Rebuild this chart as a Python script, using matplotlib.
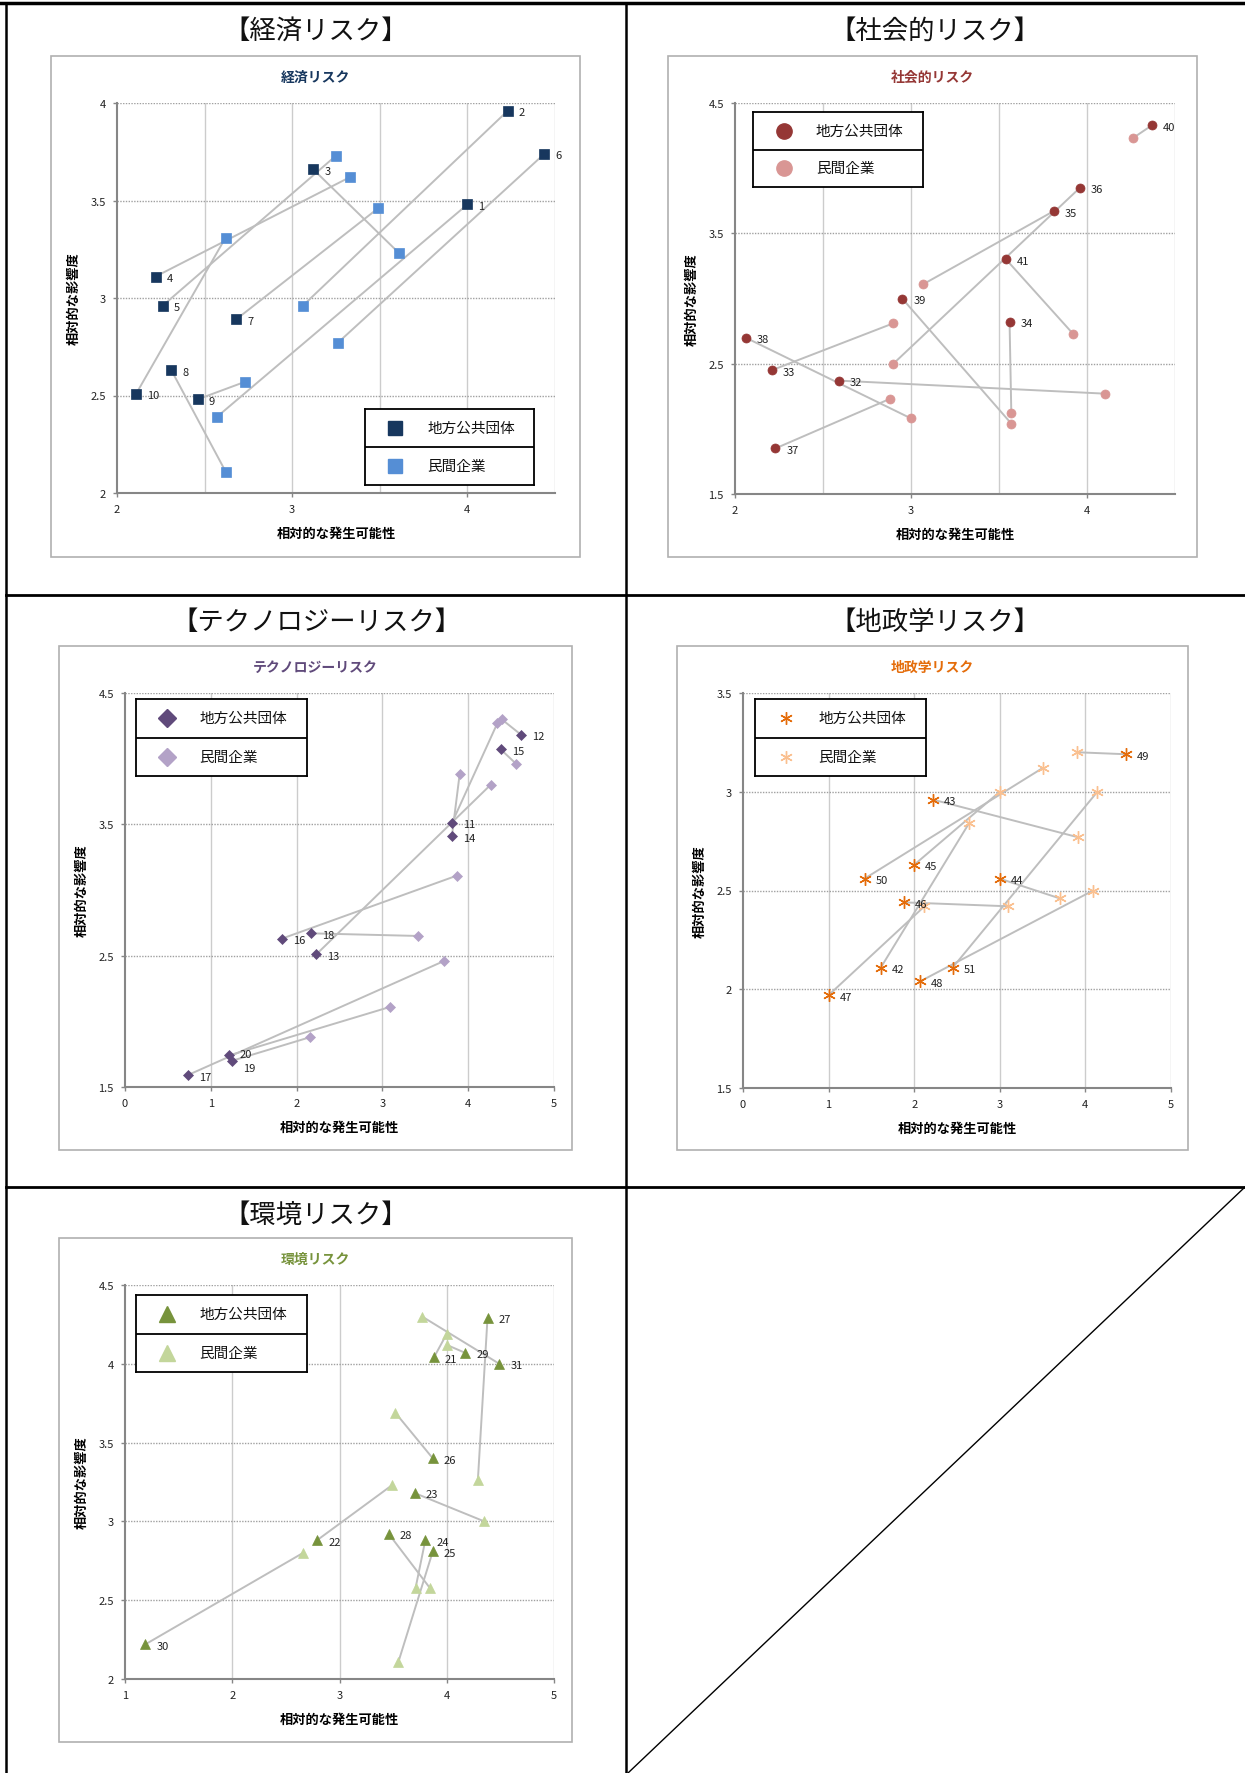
import matplotlib.pyplot as plt
from matplotlib.lines import Line2D
from matplotlib.patches import Rectangle

plt.rcParams['font.family'] = ['Noto Sans CJK JP', 'DejaVu Sans']

# 経済リスク (No.1-10)
econ_ids = list(range(1, 11))
econ_gov_x = [4.00, 4.23, 3.12, 2.22, 2.26, 4.44, 2.68, 2.31, 2.46, 2.11]
econ_gov_y = [3.48, 3.96, 3.66, 3.11, 2.96, 3.74, 2.89, 2.63, 2.48, 2.51]
econ_biz_x = [2.57, 3.06, 3.61, 3.33, 3.25, 3.26, 3.49, 2.62, 2.73, 2.62]
econ_biz_y = [2.39, 2.96, 3.23, 3.62, 3.73, 2.77, 3.46, 2.11, 2.57, 3.31]

# 社会的リスク (No.32-41)
soc_ids = list(range(32, 42))
soc_gov_x = [2.59, 2.21, 3.56, 3.81, 3.96, 2.23, 2.06, 2.95, 4.37, 3.54]
soc_gov_y = [2.37, 2.45, 2.82, 3.67, 3.85, 1.85, 2.70, 3.00, 4.33, 3.30]
soc_biz_x = [4.10, 2.90, 3.57, 3.07, 2.90, 2.88, 3.00, 3.57, 4.26, 3.92]
soc_biz_y = [2.27, 2.81, 2.12, 3.11, 2.50, 2.23, 2.08, 2.04, 4.23, 2.73]

# テクノロジーリスク (No.11-20)
tech_ids = list(range(11, 21))
tech_gov_x = [3.81, 4.62, 2.23, 3.81, 4.38, 1.83, 0.73, 2.17, 1.25, 1.21]
tech_gov_y = [3.51, 4.18, 2.51, 3.41, 4.07, 2.63, 1.59, 2.67, 1.70, 1.74]
tech_biz_x = [4.34, 4.39, 4.26, 3.90, 4.56, 3.87, 3.72, 3.42, 2.16, 3.09]
tech_biz_y = [4.27, 4.30, 3.80, 3.88, 3.96, 3.11, 2.46, 2.65, 1.88, 2.11]

# 地政学リスク (No.42-51)
geo_ids = list(range(42, 52))
geo_gov_x = [1.61, 2.22, 3.00, 2.00, 1.88, 1.00, 2.07, 4.47, 1.42, 2.45]
geo_gov_y = [2.11, 2.96, 2.56, 2.63, 2.44, 1.97, 2.04, 3.19, 2.56, 2.11]
geo_biz_x = [2.64, 3.91, 3.70, 3.00, 3.10, 2.12, 4.09, 3.90, 3.50, 4.14]
geo_biz_y = [2.84, 2.77, 2.46, 3.00, 2.42, 2.42, 2.50, 3.20, 3.12, 3.00]

# 環境リスク (No.21-31)
env_ids = list(range(21, 32))
env_gov_x = [3.88, 2.79, 3.70, 3.80, 3.87, 3.87, 4.38, 3.46, 4.17, 1.19, 4.49]
env_gov_y = [4.04, 2.88, 3.18, 2.88, 2.81, 3.40, 4.29, 2.92, 4.07, 2.22, 4.00]
env_biz_x = [4.00, 3.49, 4.35, 3.71, 3.55, 3.52, 4.29, 3.84, 4.00, 2.66, 3.77]
env_biz_y = [4.19, 3.23, 3.00, 2.58, 2.11, 3.69, 3.26, 2.58, 4.12, 2.80, 4.30]

W, H = 1245, 1774
fig = plt.figure(figsize=(W / 100, H / 100), dpi=100)


def fx(x):
    return x / W


def fy(y):
    return 1 - y / H


def axes_px(l, t, r, b):
    return fig.add_axes([fx(l), fy(b), (r - l) / W, (b - t) / H])


def draw_panel(p):
    l, t, r, b = p['box']
    fig.add_artist(Rectangle((fx(l), fy(b)), (r - l) / W, (b - t) / H,
                             transform=fig.transFigure, fill=False,
                             edgecolor='#B0B0B0', lw=1.2))
    fig.text(fx((l + r) / 2), fy(t + 21), p['title'], ha='center', va='center',
             fontsize=10, fontweight='bold', color=p['title_color'])

    pl, pt, pr, pb = p['plot']
    ax = axes_px(pl, pt, pr, pb)
    ax.set_xlim(*p['xlim'])
    ax.set_ylim(*p['ylim'])
    for gx in p['xgrid']:
        ax.axvline(gx, color='#CCCCCC', lw=1.0, zorder=0)
    for gy in p['ygrid']:
        ax.axhline(gy, color='#A0A0A0', lw=1.0, ls=(0, (1, 1)), zorder=0)
    ax.set_xticks(p['xticks'])
    ax.set_yticks(p['yticks'])
    ax.set_xticklabels([f'{v:g}' for v in p['xticks']])
    ax.set_yticklabels([f'{v:g}' for v in p['yticks']])
    ax.tick_params(length=3, width=1, color='#868686', labelsize=8,
                   labelcolor='#222222', pad=5)
    for s in ('top', 'right'):
        ax.spines[s].set_visible(False)
    for s in ('left', 'bottom'):
        ax.spines[s].set_color('#868686')
        ax.spines[s].set_linewidth(1.5)

    for gx, gy, bx, by in zip(p['gov_x'], p['gov_y'], p['biz_x'], p['biz_y']):
        ax.plot([gx, bx], [gy, by], color='#BEBEBE', lw=1.4, zorder=1,
                solid_capstyle='round')
    mkw = dict(ls='none', marker=p['marker'], ms=p['ms'], zorder=3,
               clip_on=False)
    if p['hollow']:
        ax.plot(p['biz_x'], p['biz_y'], mec=p['c_biz'], mew=1.0, **mkw)
        ax.plot(p['gov_x'], p['gov_y'], mec=p['c_gov'], mew=1.0, **mkw)
    else:
        ax.plot(p['biz_x'], p['biz_y'], mfc=p['c_biz'], mec=p['c_biz'], mew=0.5, **mkw)
        ax.plot(p['gov_x'], p['gov_y'], mfc=p['c_gov'], mec=p['c_gov'], mew=0.5, **mkw)
    shifts = p.get('label_shift', {})
    for i, gx, gy in zip(p['ids'], p['gov_x'], p['gov_y']):
        dx, dy = shifts.get(i, (8, -1))
        ax.annotate(str(i), (gx, gy), xytext=(dx, dy), textcoords='offset points',
                    va='center', ha='left', fontsize=8, color='#222222', zorder=4)

    ax.set_xlabel('相対的な発生可能性', fontsize=9.5, fontweight='bold')
    ax.xaxis.set_label_coords(0.5, -33 / (pb - pt))
    ax.set_ylabel('相対的な影響度', fontsize=9.5, fontweight='bold')
    ax.yaxis.set_label_coords(-36 / (pr - pl), 0.5)

    # legend box with a divider between the two series
    ll, lt, lr, lb = p['legend']
    lax = axes_px(ll, lt, lr, lb)
    lax.set_xlim(0, 1)
    lax.set_ylim(0, 1)
    lax.set_xticks([])
    lax.set_yticks([])
    for s in lax.spines.values():
        s.set_color('black')
        s.set_linewidth(1.3)
    lax.axhline(0.5, color='black', lw=1.3)
    for yy, col, name in ((0.75, p['c_gov'], '地方公共団体'), (0.25, p['c_biz'], '民間企業')):
        if p['hollow']:
            lax.plot([0.18], [yy], marker=p['marker'], ms=p['leg_ms'], mec=col, mew=1.0, ls='none')
        else:
            lax.plot([0.18], [yy], marker=p['marker'], ms=p['leg_ms'], color=col, ls='none')
        lax.text(0.37, yy, name, va='center', ha='left', fontsize=10.5, color='#111111')


panels = [
    dict(box=(51, 57, 580, 558), plot=(117, 104, 555, 494), legend=(365, 410, 534, 486),
         title='経済リスク', title_color='#17375E', ids=econ_ids,
         gov_x=econ_gov_x, gov_y=econ_gov_y, biz_x=econ_biz_x, biz_y=econ_biz_y,
         marker='s', ms=6.5, leg_ms=9.5, hollow=False, c_gov='#17375E', c_biz='#558ED5',
         xlim=(2, 4.5), ylim=(2, 4), xticks=[2, 3, 4], yticks=[2, 2.5, 3, 3.5, 4],
         xgrid=[2.5, 3, 3.5, 4, 4.5], ygrid=[2.5, 3, 3.5, 4]),
    dict(box=(668, 57, 1197, 558), plot=(735, 104, 1175, 495), legend=(753, 113, 923, 188),
         title='社会的リスク', title_color='#953735', ids=soc_ids,
         gov_x=soc_gov_x, gov_y=soc_gov_y, biz_x=soc_biz_x, biz_y=soc_biz_y,
         marker='o', ms=6.5, leg_ms=11, hollow=False, c_gov='#953735', c_biz='#D99694',
         xlim=(2, 4.5), ylim=(1.5, 4.5), xticks=[2, 3, 4], yticks=[1.5, 2.5, 3.5, 4.5],
         xgrid=[2.5, 3, 3.5, 4, 4.5], ygrid=[2.5, 3.5, 4.5]),
    dict(box=(59, 647, 572, 1151), plot=(125, 694, 554, 1088), legend=(136, 700, 307, 777),
         title='テクノロジーリスク', title_color='#604A7B', ids=tech_ids,
         gov_x=tech_gov_x, gov_y=tech_gov_y, biz_x=tech_biz_x, biz_y=tech_biz_y,
         marker='D', ms=5.5, leg_ms=9, hollow=False, c_gov='#604A7B', c_biz='#B3A2C7',
         xlim=(0, 5), ylim=(1.5, 4.5), xticks=[0, 1, 2, 3, 4, 5], yticks=[1.5, 2.5, 3.5, 4.5],
         xgrid=[1, 2, 3, 4, 5], ygrid=[2.5, 3.5, 4.5], label_shift={19: (8, -5), 20: (8, 1)}),
    dict(box=(677, 647, 1188, 1151), plot=(743, 694, 1171, 1089), legend=(755, 700, 926, 777),
         title='地政学リスク', title_color='#E46C0A', ids=geo_ids,
         gov_x=geo_gov_x, gov_y=geo_gov_y, biz_x=geo_biz_x, biz_y=geo_biz_y,
         marker=(6, 2, 0), ms=9, leg_ms=9, hollow=True, c_gov='#E46C0A', c_biz='#FAC090',
         xlim=(0, 5), ylim=(1.5, 3.5), xticks=[0, 1, 2, 3, 4, 5], yticks=[1.5, 2, 2.5, 3, 3.5],
         xgrid=[1, 2, 3, 4, 5], ygrid=[2, 2.5, 3, 3.5]),
    dict(box=(59, 1239, 572, 1743), plot=(125, 1286, 554, 1680), legend=(136, 1296, 307, 1373),
         title='環境リスク', title_color='#77933C', ids=env_ids,
         gov_x=env_gov_x, gov_y=env_gov_y, biz_x=env_biz_x, biz_y=env_biz_y,
         marker='^', ms=7, leg_ms=11, hollow=False, c_gov='#77933C', c_biz='#C3D69B',
         xlim=(1, 5), ylim=(2, 4.5), xticks=[1, 2, 3, 4, 5], yticks=[2, 2.5, 3, 3.5, 4, 4.5],
         xgrid=[2, 3, 4, 5], ygrid=[2.5, 3, 3.5, 4, 4.5]),
]

for p in panels:
    draw_panel(p)

# table frame around the five charts
def frame_line(x0, y0, x1, y1, lw):
    fig.add_artist(Line2D([fx(x0), fx(x1)], [fy(y0), fy(y1)], color='black', lw=lw,
                          transform=fig.transFigure))


frame_line(0, 4, W, 4, 2.5)
frame_line(6, 4, 6, H, 1.8)
frame_line(626, 4, 626, H, 1.8)
frame_line(6, 596, W, 596, 2.0)
frame_line(6, 1188, W, 1188, 2.0)
frame_line(628, H, W, 1188, 1.0)

cell_titles = [(316, 31, '【経済リスク】'), (935, 31, '【社会的リスク】'),
               (316, 622, '【テクノロジーリスク】'), (935, 622, '【地政学リスク】'),
               (316, 1215, '【環境リスク】')]
for x, y, s in cell_titles:
    fig.text(fx(x), fy(y), s, ha='center', va='center', fontsize=19, color='#111111')

fig.savefig('out.png', dpi=100)
